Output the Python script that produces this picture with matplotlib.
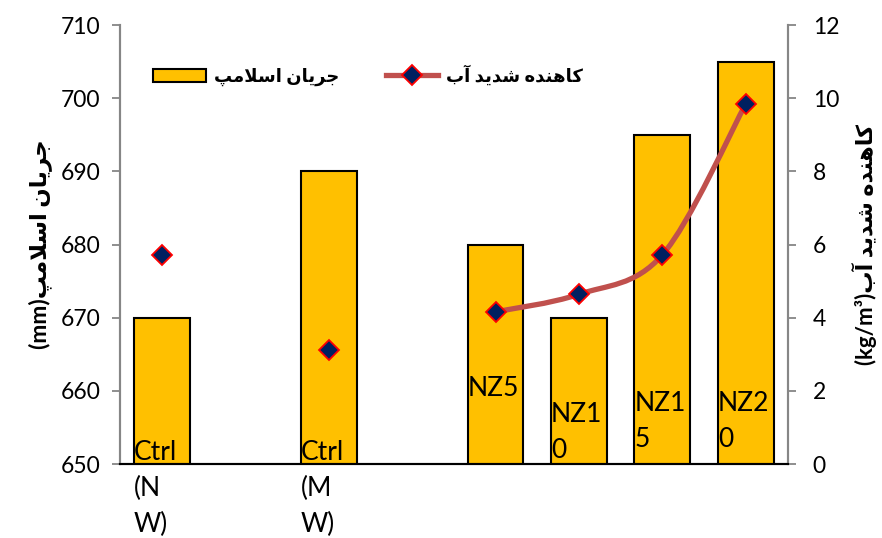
import numpy as np
import matplotlib
matplotlib.use('Agg')
import matplotlib.pyplot as plt
from matplotlib.path import Path
from matplotlib.patches import PathPatch, Patch
from matplotlib.lines import Line2D

plt.rcParams['font.family'] = ['Lato', 'DejaVu Sans']

# data
categories = ['Ctrl\n(N\nW)', '', 'Ctrl\n(M\nW)', '', 'NZ5', 'NZ1\n0', 'NZ1\n5', 'NZ2\n0']
slump = [670, np.nan, 690, np.nan, 680, 670, 695, 705]          # mm, left axis
reducer_ctrl = [5.72, np.nan, 3.12, np.nan, np.nan, np.nan, np.nan, np.nan]
reducer_nz = [np.nan, np.nan, np.nan, np.nan, 4.16, 4.64, 5.72, 9.85]  # kg/m3, right axis

# where the category labels sit (left axis units), as in the original
label_top = [653.3, None, 653.3, None, 662.0, 658.5, 660.0, 660.0]

bar_label = 'جریان اسلامپ'
line_label = 'کاهنده شدید آب'

# minimal persian shaping (no reshaper available): isolated, final, initial, medial
forms = {
    'ج': 'ﺝﺞﺟﺠ', 'ی': 'ﯼﯽﯾﯿ', 'ن': 'ﻥﻦﻧﻨ', 'س': 'ﺱﺲﺳﺴ', 'ل': 'ﻝﻞﻟﻠ',
    'م': 'ﻡﻢﻣﻤ', 'پ': 'ﭖﭗﭘﭙ', 'ک': 'ﮎﮏﮐﮑ', 'ه': 'ﻩﻪﻫﻬ', 'ش': 'ﺵﺶﺷﺸ',
    'ب': 'ﺏﺐﺑﺒ', 'ر': 'ﺭﺮ', 'ا': 'ﺍﺎ', 'د': 'ﺩﺪ', 'آ': 'ﺁﺂ',
}
lam_alef = {'ا': 'ﻻﻼ', 'آ': 'ﻵﻶ'}


def shape(s):
    chars = list(s)
    out = []
    i = 0
    while i < len(chars):
        c = chars[i]
        prev = out[-1][1] if out else None
        joins_prev = prev is not None and prev in forms and len(forms[prev]) == 4
        if c == 'ل' and i + 1 < len(chars) and chars[i + 1] in lam_alef:
            lig = lam_alef[chars[i + 1]]
            out.append((lig[1] if joins_prev else lig[0], 'ا'))
            i += 2
            continue
        if c not in forms:
            out.append((c, None))
            i += 1
            continue
        f = forms[c]
        nxt = chars[i + 1] if i + 1 < len(chars) else None
        joins_next = len(f) == 4 and nxt in forms
        if joins_prev and joins_next:
            g = f[3]
        elif joins_prev:
            g = f[1]
        elif joins_next:
            g = f[2]
        else:
            g = f[0]
        out.append((g, c))
        i += 1
    return ''.join(g for g, _ in out)[::-1]


def smooth_path(xs, ys):
    p = np.column_stack([xs, ys])
    ext = np.vstack([p[0], p, p[-1]])
    verts = [p[0]]
    codes = [Path.MOVETO]
    for i in range(len(p) - 1):
        p0, p1, p2, p3 = ext[i], ext[i + 1], ext[i + 2], ext[i + 3]
        verts += [p1 + (p2 - p0) / 6, p2 - (p3 - p1) / 6, p2]
        codes += [Path.CURVE4] * 3
    return Path(verts, codes)


x = np.arange(len(categories))
bar_w = 0.67
bar_color = '#FFC000'
line_color = '#C0504D'

fig = plt.figure(figsize=(8.82, 5.38), dpi=100)
ax = fig.add_axes([0.136, 0.1375, 0.757, 0.816])
ax.bar(x, slump, width=bar_w, color=bar_color, edgecolor='black', linewidth=1.5, zorder=2)
ax.set_xlim(-0.5, len(categories) - 0.5)
ax.set_ylim(650, 710)
ax.set_yticks(np.arange(650, 711, 10))
ax.set_xticks([])
ax.tick_params(axis='y', labelsize=16.5, color='#868686', length=6, width=1.3, pad=8)
for side in ['left', 'right']:
    ax.spines[side].set_color('#868686')
    ax.spines[side].set_linewidth(1.5)
ax.spines['top'].set_visible(False)
ax.spines['bottom'].set_linewidth(1.5)
ax.set_ylabel('(mm)' + shape(bar_label), fontsize=16.5, fontweight='bold', labelpad=6)

for xi, lab, top in zip(x, categories, label_top):
    if lab:
        ax.text(xi - bar_w / 2, top, lab, ha='left', va='top', fontsize=19,
                linespacing=1.55, clip_on=False, zorder=3)

ax2 = ax.twinx()
ax2.set_ylim(0, 12)
ax2.set_yticks(np.arange(0, 13, 2))
ax2.tick_params(axis='y', labelsize=16.5, color='#868686', length=6, width=1.3, pad=12)
for side in ['left', 'right']:
    ax2.spines[side].set_color('#868686')
    ax2.spines[side].set_linewidth(1.5)
ax2.spines['top'].set_visible(False)
ax2.spines['bottom'].set_linewidth(1.5)

mask = ~np.isnan(reducer_nz)
ax2.add_patch(PathPatch(smooth_path(x[mask], np.array(reducer_nz)[mask]), fill=False,
                        edgecolor=line_color, linewidth=3.8, capstyle='round'))
marker_kw = dict(marker='D', markersize=10, markerfacecolor='#002060',
                 markeredgecolor='red', markeredgewidth=1.3)
ax2.plot(x, reducer_nz, linestyle='none', **marker_kw)
ax2.plot(x, reducer_ctrl, linestyle='none', **marker_kw)
ax2.set_ylabel('(kg/m³)' + shape(line_label), fontsize=16, fontweight='bold',
               rotation=90, labelpad=9)

handles = [Patch(facecolor=bar_color, edgecolor='black', linewidth=1.5),
           Line2D([], [], color=line_color, linewidth=3.8, **marker_kw)]
ax2.legend(handles, [shape(bar_label), shape(line_label)], ncol=2, loc='center',
           bbox_to_anchor=(0.372, 0.886), frameon=False,
           prop={'weight': 'bold', 'size': 13}, handlelength=2.9,
           columnspacing=2.6, handletextpad=0.45)

fig.savefig('out.png', dpi=100)
